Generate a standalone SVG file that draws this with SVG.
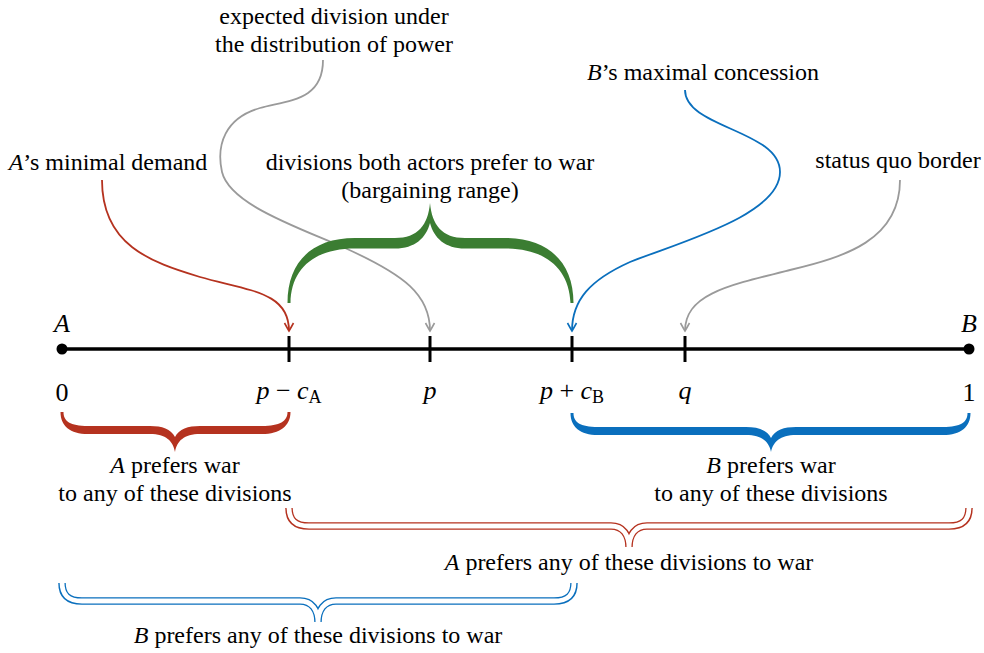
<svg xmlns="http://www.w3.org/2000/svg" width="984" height="653" viewBox="0 0 984 653">
<style>
text{font-family:Liberation Serif,serif;font-size:24px;fill:#000;text-anchor:middle}
.m{font-size:26px}
.i{font-style:italic}
.sub{font-size:18px}
.cr{fill:none;stroke-width:1.8}
.dbl-o{fill:none;stroke-width:7.5}
.dbl-i{fill:none;stroke:#fff;stroke-width:4.8}
</style>
<defs>
<marker id="arR" markerUnits="userSpaceOnUse" orient="auto" refX="0" refY="0" markerWidth="12" markerHeight="12" viewBox="-10 -6 12 12" overflow="visible"><path d="M-8,-4.5 Q-2.5,-1.5 0,0 Q-2.5,1.5 -8,4.5" fill="none" stroke="#b5321f" stroke-width="1.6"/></marker>
<marker id="arB" markerUnits="userSpaceOnUse" orient="auto" refX="0" refY="0" markerWidth="12" markerHeight="12" viewBox="-10 -6 12 12" overflow="visible"><path d="M-8,-4.5 Q-2.5,-1.5 0,0 Q-2.5,1.5 -8,4.5" fill="none" stroke="#0a6fbd" stroke-width="1.6"/></marker>
<marker id="arG" markerUnits="userSpaceOnUse" orient="auto" refX="0" refY="0" markerWidth="12" markerHeight="12" viewBox="-10 -6 12 12" overflow="visible"><path d="M-8,-4.5 Q-2.5,-1.5 0,0 Q-2.5,1.5 -8,4.5" fill="none" stroke="#9a9a9a" stroke-width="1.6"/></marker>
</defs>

<g id="axis">
<line x1="62" y1="349" x2="969" y2="349" stroke="#000" stroke-width="3.5"/>
<circle cx="62" cy="349" r="5.5"/>
<circle cx="969" cy="349" r="5.5"/>
<g stroke="#000" stroke-width="3">
<line x1="289" y1="336" x2="289" y2="362"/>
<line x1="430" y1="336" x2="430" y2="362"/>
<line x1="572" y1="336" x2="572" y2="362"/>
<line x1="685" y1="336" x2="685" y2="362"/>
</g>
<text font-family="Liberation Serif" class="m i" x="62" y="332">A</text>
<text font-family="Liberation Serif" class="m i" x="969" y="332">B</text>
<text font-family="Liberation Serif" class="m" x="62" y="401">0</text>
<text font-family="Liberation Serif" class="m" x="289" y="399"><tspan class="i">p</tspan> − <tspan class="i">c</tspan><tspan class="sub" dy="4">A</tspan></text>
<text font-family="Liberation Serif" class="m i" x="430" y="399">p</text>
<text font-family="Liberation Serif" class="m" x="572" y="399"><tspan class="i">p</tspan> + <tspan class="i">c</tspan><tspan class="sub" dy="4">B</tspan></text>
<text font-family="Liberation Serif" class="m i" x="685" y="399">q</text>
<text font-family="Liberation Serif" class="m" x="969" y="401">1</text>
</g>

<g id="connectors">
<path class="cr" stroke="#9a9a9a" d="M323,60 C323,100 290,100 260,108 C225,118 216,145 222,172 C230,205 300,228 345,248 C405,275 430,295 430,331" marker-end="url(#arG)"/>
<path class="cr" stroke="#b5321f" d="M102,180 C102,245 150,262 200,277 C250,291 289,292 289,331" marker-end="url(#arR)"/>
<path class="cr" stroke="#0a6fbd" d="M685,90 C685,128 780,130 780,172 C780,215 680,242 630,262 C590,280 572,300 572,331" marker-end="url(#arB)"/>
<path class="cr" stroke="#9a9a9a" d="M900,180 C900,240 845,257 790,270 C725,286 685,295 685,331" marker-end="url(#arG)"/>
</g>

<g id="label-expected">
<text font-family="Liberation Serif" x="334" y="24">expected division under</text>
<text font-family="Liberation Serif" x="334" y="52">the distribution of power</text>
</g>
<g id="label-minimal">
<text font-family="Liberation Serif" x="108" y="170"><tspan class="i">A</tspan>’s minimal demand</text>
</g>
<g id="label-bargaining">
<text font-family="Liberation Serif" x="430" y="170">divisions both actors prefer to war</text>
<text font-family="Liberation Serif" x="430" y="198">(bargaining range)</text>
</g>
<g id="label-maximal">
<text font-family="Liberation Serif" x="703" y="80"><tspan class="i">B</tspan>’s maximal concession</text>
</g>
<g id="label-statusquo">
<text font-family="Liberation Serif" x="898" y="168">status quo border</text>
</g>

<g id="brace-bargaining">
<path fill="#3b7d32" d="M287.5,303 C287.5,262 312,238 355,238 L395,238 C418,238 428,225 430,203 C432,225 442,238 465,238 L505,238 C548,238 573.5,262 573.5,303 L570.5,303 C569,268 545,248.5 505,248.5 L465,248.5 C445,248.5 434,238 430,223 C426,238 415,248.5 395,248.5 L355,248.5 C315,248.5 291,268 290.5,303 Z"/>
</g>

<g id="brace-a-war">
<path fill="#b5321f" d="M60.5,412 C60.5,426 70,434 88,434 L150,434 C166,434 173,441 175,452 C177,441 184,434 200,434 L262,434 C280,434 290.5,426 290.5,412 L287.5,412 C287.5,421 280,426 262,426 L200,426 C188,426 179,429 175,437 C171,429 162,426 150,426 L88,426 C70,426 63.5,421 63.5,412 Z"/>
<text font-family="Liberation Serif" x="175" y="473"><tspan class="i">A</tspan> prefers war</text>
<text font-family="Liberation Serif" x="175" y="501">to any of these divisions</text>
</g>

<g id="brace-b-war">
<path fill="#0a6fbd" d="M570.5,413 C570.5,427 580,435 598,435 L746,435 C762,435 769,442 771,452 C773,442 780,435 796,435 L943,435 C961,435 970.5,427 970.5,413 L967.5,413 C967.5,422 961,427 943,427 L796,427 C784,427 775,430 771,438 C767,430 758,427 746,427 L598,427 C580,427 573.5,422 573.5,413 Z"/>
<text font-family="Liberation Serif" x="771" y="473"><tspan class="i">B</tspan> prefers war</text>
<text font-family="Liberation Serif" x="771" y="501">to any of these divisions</text>
</g>

<g id="brace-a-peace">
<path class="dbl-o" stroke="#b5321f" d="M289,508 C289,520 295,526 309,526 L611,526 C623,526 629,535 629,547 C629,535 635,526 647,526 L949,526 C963,526 969,520 969,508"/>
<path class="dbl-i" d="M289,507 C289,520 295,526 309,526 L611,526 C623,526 629,535 629,548 C629,535 635,526 647,526 L949,526 C963,526 969,520 969,507"/>
<text font-family="Liberation Serif" x="629" y="570"><tspan class="i">A</tspan> prefers any of these divisions to war</text>
</g>

<g id="brace-b-peace">
<path class="dbl-o" stroke="#0a6fbd" d="M62,583 C62,595 68,601 82,601 L300,601 C312,601 318,610 318,622 C318,610 324,601 336,601 L554,601 C568,601 574,595 574,583"/>
<path class="dbl-i" d="M62,582 C62,595 68,601 82,601 L300,601 C312,601 318,610 318,623 C318,610 324,601 336,601 L554,601 C568,601 574,595 574,582"/>
<text font-family="Liberation Serif" x="318" y="643"><tspan class="i">B</tspan> prefers any of these divisions to war</text>
</g>
</svg>
